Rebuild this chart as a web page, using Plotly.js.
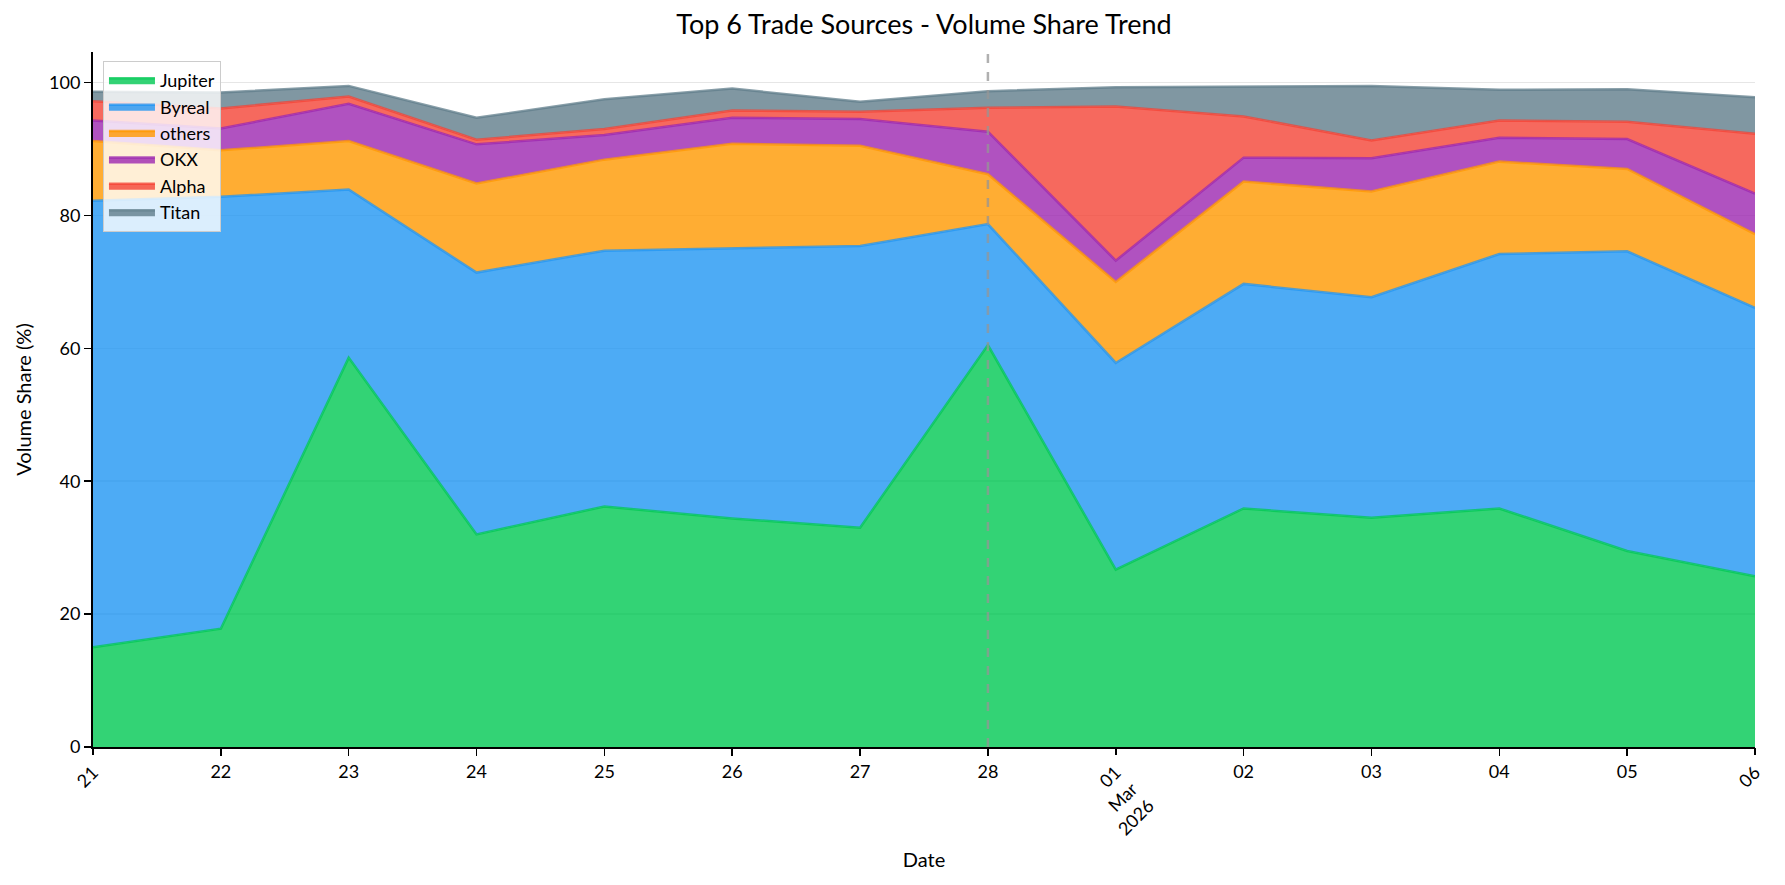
<!DOCTYPE html>
<html>
<head>
<meta charset="utf-8">
<script src="https://cdn.plot.ly/plotly-3.0.1.min.js"></script>
<style>
  html, body { margin: 0; padding: 0; background: #ffffff; }
  #chart { width: 1785px; height: 885px; }
</style>
</head>
<body>
<div id="chart"></div>
<script>
// ---- data ----
const dates = ['2026-02-21','2026-02-22','2026-02-23','2026-02-24','2026-02-25','2026-02-26','2026-02-27',
               '2026-02-28','2026-03-01','2026-03-02','2026-03-03','2026-03-04','2026-03-05','2026-03-06'];
const tickLabels = ['21','22','23','24','25','26','27','28','01<br>Mar<br>2026','02','03','04','05','06'];
const rotatedTickDates = ['2026-02-21','2026-03-01','2026-03-06'];
const markerDate = '2026-02-28';

const jupiter = [15.0, 17.8, 58.6, 32.0, 36.2, 34.4, 33.0, 60.5, 26.7, 35.9, 34.5, 35.9, 29.5, 25.7];
const byreal  = [67.2, 65.0, 25.3, 39.4, 38.5, 40.7, 42.4, 18.2, 31.1, 33.8, 33.2, 38.3, 45.1, 40.4];
const others  = [ 9.0,  7.0,  7.3, 13.4, 13.7, 15.7, 15.1,  7.5, 12.2, 15.4, 15.9, 13.9, 12.4, 11.1];
const okx     = [ 3.1,  3.3,  5.6,  5.9,  3.7,  3.9,  4.0,  6.4,  3.2,  3.6,  5.0,  3.6,  4.5,  6.1];
const alpha   = [ 2.9,  3.0,  1.1,  0.7,  0.9,  1.1,  1.1,  3.6, 23.2,  6.2,  2.7,  2.6,  2.6,  9.0];
const titan   = [ 1.4,  2.4,  1.6,  3.3,  4.5,  3.3,  1.5,  2.5,  2.9,  4.5,  8.2,  4.6,  4.9,  5.5];

const seriesNames = ['Jupiter','Byreal','others','OKX','Alpha','Titan'];
const seriesValues = [jupiter, byreal, others, okx, alpha, titan];
const seriesRGB = ['0,200,83','33,150,243','255,152,0','156,39,176','244,67,54','96,125,139'];

// ---- traces ----
const traces = seriesNames.map((name, i) => ({
  type: 'scatter',
  mode: 'lines',
  name: name,
  x: dates,
  y: seriesValues[i],
  stackgroup: 'one',
  fill: 'tonexty',
  fillcolor: 'rgba(' + seriesRGB[i] + ',0.8)',
  line: { color: 'rgba(' + seriesRGB[i] + ',0.75)', width: 2.5 },
  hoverinfo: 'x+y+name'
}));

// invisible carrier trace so the second (rotated-label) date axis is drawn
traces.push({
  type: 'scatter', mode: 'lines',
  x: dates, y: dates.map(() => null),
  xaxis: 'x2', yaxis: 'y',
  showlegend: false, hoverinfo: 'skip',
  line: { width: 0, color: 'rgba(0,0,0,0)' }
});

const flatIdx = dates.map((d, i) => i).filter(i => rotatedTickDates.indexOf(dates[i]) < 0);
const rotIdx = dates.map((d, i) => i).filter(i => rotatedTickDates.indexOf(dates[i]) >= 0);

const FONT = 'Lato, "DejaVu Sans", sans-serif';
const xRange = [dates[0], dates[dates.length - 1]];

const layout = {
  width: 1785,
  height: 885,
  paper_bgcolor: '#ffffff',
  plot_bgcolor: '#ffffff',
  font: { family: FONT, color: '#000000', size: 18 },
  margin: { l: 93, r: 30, t: 52, b: 138 },
  title: {
    text: 'Top 6 Trade Sources - Volume Share Trend',
    font: { family: FONT, size: 27, color: '#000000' },
    x: 0.5, xref: 'paper', xanchor: 'center',
    y: 0.972, yref: 'container', yanchor: 'middle'
  },
  showlegend: true,
  legend: {
    x: 0.006, y: 0.987, xanchor: 'left', yanchor: 'top',
    bgcolor: 'rgba(255,255,255,0.8)',
    bordercolor: '#cccccc', borderwidth: 1,
    font: { family: FONT, size: 18, color: '#000000' },
    traceorder: 'normal',
    itemwidth: 46,
    tracegroupgap: 0
  },
  xaxis: {
    type: 'date',
    range: xRange,
    tickmode: 'array',
    tickvals: flatIdx.map(i => dates[i]),
    ticktext: flatIdx.map(i => tickLabels[i]),
    tickangle: 0,
    ticks: 'outside', ticklen: 7, tickwidth: 1.5, tickcolor: '#000000',
    tickfont: { family: FONT, size: 18, color: '#000000' },
    showline: true, linecolor: '#000000', linewidth: 2,
    showgrid: false, zeroline: false,
    automargin: false,
    fixedrange: true
  },
  xaxis2: {
    type: 'date',
    overlaying: 'x',
    matches: 'x',
    anchor: 'y',
    side: 'bottom',
    range: xRange,
    tickmode: 'array',
    tickvals: rotIdx.map(i => dates[i]),
    ticktext: rotIdx.map(i => tickLabels[i]),
    tickangle: -45,
    ticks: 'outside', ticklen: 7, tickwidth: 1.5, tickcolor: '#000000',
    tickfont: { family: FONT, size: 18, color: '#000000' },
    showline: false, showgrid: false, zeroline: false,
    automargin: false,
    title: { text: 'Date', font: { family: FONT, size: 20, color: '#000000' }, standoff: 14 }
  },
  yaxis: {
    range: [0, 104.6],
    tickmode: 'linear', tick0: 0, dtick: 20,
    ticks: 'outside', ticklen: 7, tickwidth: 1.5, tickcolor: '#000000',
    tickfont: { family: FONT, size: 18, color: '#000000' },
    showline: true, linecolor: '#000000', linewidth: 2,
    showgrid: true, gridcolor: 'rgba(200,200,200,0.45)', gridwidth: 1.5,
    zeroline: false,
    automargin: false,
    title: { text: 'Volume Share (%)', font: { family: FONT, size: 20, color: '#000000' }, standoff: 12 }
  },
  shapes: [{
    type: 'line', xref: 'x', yref: 'paper',
    x0: markerDate, x1: markerDate, y0: 0, y1: 1,
    line: { color: 'rgba(150,150,150,0.75)', width: 2.5, dash: 'dash' },
    layer: 'above'
  }]
};

Plotly.newPlot('chart', traces, layout, { displayModeBar: false, staticPlot: true });
</script>
</body>
</html>
